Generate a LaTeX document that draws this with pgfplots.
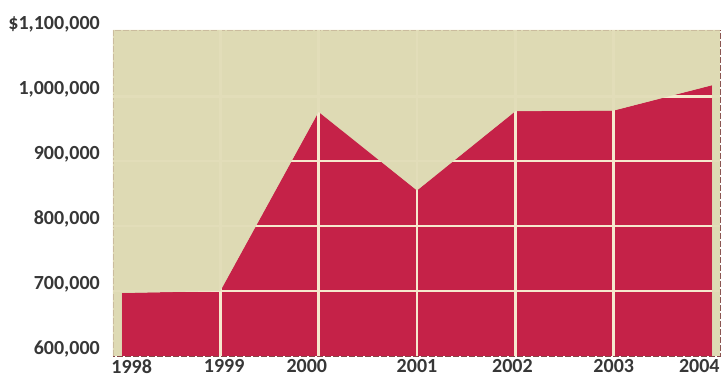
\documentclass[border=0pt]{standalone}
\usepackage{fontspec}
\setmainfont{Carlito}
\usepackage{pgfplots}
\pgfplotsset{compat=1.18}
\definecolor{chartred}{RGB}{197,34,72}
\definecolor{beige}{RGB}{222,218,180}
\definecolor{cream}{RGB}{246,233,206}
\definecolor{txt}{RGB}{55,55,55}
\definecolor{frame}{RGB}{130,70,70}
\begin{document}
\begin{tikzpicture}
\useasboundingbox (0,0) rectangle (723pt,380pt);
\begin{axis}[
  at={(113pt,24pt)}, anchor=south west,
  scale only axis, width=607pt, height=326pt,
  xmin=1997.91, xmax=2004.08, ymin=600000, ymax=1102000,
  scaled ticks=false,
  axis background/.style={fill=beige},
  xtick={1998.10,1999.04,1999.88,2001.00,2001.97,2003.00,2003.87},
  xticklabels={1998,1999,2000,2001,2002,2003,2004},
  ytick={600000,700000,800000,900000,1000000,1100000},
  yticklabels={{600,000},{700,000},{800,000},{900,000},{1,000,000},{\$1,100,000}},
  major tick length=0pt,
  tick label style={font=\fontsize{20}{20}\selectfont\bfseries, text=txt, inner sep=0pt},
  yticklabel style={anchor=east, xshift=-13pt, yshift=7pt},
  xticklabel style={anchor=north, yshift=-3pt},
  axis line style={draw=frame, line width=0.6pt, dash pattern=on 6pt off 2pt},
]
% red area
\addplot[fill=chartred, draw=none] coordinates {
  (1998,697000) (1999,700000) (2000,976000) (2001,855000)
  (2002,977000) (2003,978000) (2004,1017000)} \closedcycle;
% grid lines
\addplot[cream, line width=2.6pt] coordinates {(1999,600000) (1999,1102000)};
\addplot[cream, line width=2.6pt] coordinates {(2000,600000) (2000,1102000)};
\addplot[cream, line width=2.6pt] coordinates {(2001,600000) (2001,1102000)};
\addplot[cream, line width=2.6pt] coordinates {(2002,600000) (2002,1102000)};
\addplot[cream, line width=2.6pt] coordinates {(2003,600000) (2003,1102000)};
\addplot[cream, line width=2.6pt] coordinates {(1997.91,700000) (2004.08,700000)};
\addplot[cream, line width=2.6pt] coordinates {(1997.91,800000) (2004.08,800000)};
\addplot[cream, line width=2.6pt] coordinates {(1997.91,900000) (2004.08,900000)};
\addplot[cream, line width=2.6pt] coordinates {(1997.91,1000000) (2004.08,1000000)};
% beige overlay above the curve (grid shows faintly)
\addplot[fill=beige, fill opacity=0.8, draw=none] coordinates {
  (1997.91,600000) (1998,600000) (1998,697000) (1999,700000) (2000,976000)
  (2001,855000) (2002,977000) (2003,978000) (2004,1017000) (2004,600000)
  (2004.08,600000) (2004.08,1102000) (1997.91,1102000)} -- cycle;
\end{axis}
\end{tikzpicture}
\end{document}
